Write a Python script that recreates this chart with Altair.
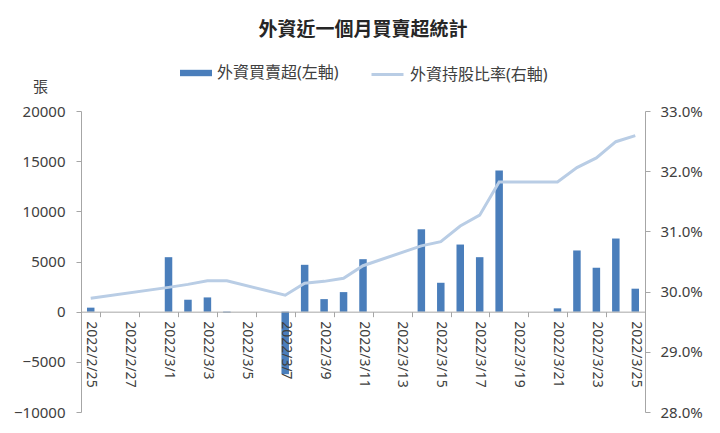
import altair as alt
import pandas as pd

# ---- data ----
dates = [
    "2022/2/25", "2022/2/26", "2022/2/27", "2022/2/28",
    "2022/3/1", "2022/3/2", "2022/3/3", "2022/3/4", "2022/3/5", "2022/3/6",
    "2022/3/7", "2022/3/8", "2022/3/9", "2022/3/10", "2022/3/11", "2022/3/12",
    "2022/3/13", "2022/3/14", "2022/3/15", "2022/3/16", "2022/3/17", "2022/3/18",
    "2022/3/19", "2022/3/20", "2022/3/21", "2022/3/22", "2022/3/23", "2022/3/24",
    "2022/3/25",
]
trade_dates = [
    "2022/2/25", "2022/3/1", "2022/3/2", "2022/3/3", "2022/3/4",
    "2022/3/7", "2022/3/8", "2022/3/9", "2022/3/10", "2022/3/11",
    "2022/3/14", "2022/3/15", "2022/3/16", "2022/3/17", "2022/3/18",
    "2022/3/21", "2022/3/22", "2022/3/23", "2022/3/24", "2022/3/25",
]
net_buy = [
    400, 5430, 1190, 1420, -80,
    -6230, 4670, 1250, 1950, 5230,
    8210, 2880, 6690, 5430, 14080,
    330, 6100, 4370, 7290, 2290,
]
hold_ratio = [
    29.89, 30.07, 30.12, 30.18, 30.18,
    29.94, 30.14, 30.17, 30.22, 30.43,
    30.76, 30.83, 31.09, 31.27, 31.82,
    31.82, 32.06, 32.22, 32.49, 32.59,
]
label_dates = dates[::2]
left_ticks = [-10000, -5000, 0, 5000, 10000, 15000, 20000]
right_ticks = [28, 29, 30, 31, 32, 33]
name_bar = "外資買賣超(左軸)"
name_line = "外資持股比率(右軸)"
title_text = "外資近一個月買賣超統計"

df = pd.DataFrame({"date": trade_dates, "net": net_buy, "ratio": hold_ratio})

FONT = "Noto Sans, Noto Sans CJK TC, sans-serif"
TXT = "#404040"
AX = "#a6a6a6"
W, H = 564, 301

base = alt.Chart(df).encode(
    x=alt.X(
        "date:N",
        sort=dates,
        scale=alt.Scale(domain=dates, paddingInner=0, paddingOuter=0),
        axis=alt.Axis(
            values=label_dates,
            title=None,
            labelAngle=90,
            labelAlign="left",
            labelBaseline="middle",
            labelPadding=4,
            labelOverlap=False,
            labelFontSize=14,
            labelFont=FONT,
            labelColor=TXT,
            offset=-H / 3,
            tickBand="extent",
            tickSize=5,
            tickColor=AX,
            domainColor=AX,
            grid=False,
            zindex=1,
        ),
    )
)

bars = base.transform_calculate(series=f"'{name_bar}'").mark_bar(size=7.5).encode(
    y=alt.Y(
        "net:Q",
        scale=alt.Scale(domain=[-10000, 20000], nice=False, zero=False),
        axis=alt.Axis(
            values=left_ticks,
            format="d",
            title="張",
            titleAngle=0,
            titleX=-41,
            titleY=-25,
            titleAlign="center",
            titleBaseline="middle",
            titleFontSize=15,
            titleFontWeight="normal",
            titleFont=FONT,
            titleColor=TXT,
            labelFontSize=15,
            labelFont=FONT,
            labelColor=TXT,
            labelPadding=11,
            tickSize=5,
            tickColor=AX,
            domainColor=AX,
            grid=False,
        ),
    ),
    fill=alt.Fill(
        "series:N",
        scale=alt.Scale(domain=[name_bar], range=["#4a7ebb"]),
        legend=alt.Legend(
            title=None,
            orient="none",
            legendX=99,
            legendY=-54,
            padding=0,
            symbolType="M-1,-0.2H1V0.2H-1Z",
            symbolSize=1024,
            symbolStrokeWidth=0,
            labelFontSize=16,
            labelFont=FONT,
            labelColor=TXT,
            labelOffset=5,
        ),
    ),
)

line = base.transform_calculate(series=f"'{name_line}'").mark_line(strokeWidth=3).encode(
    y=alt.Y(
        "ratio:Q",
        scale=alt.Scale(domain=[28, 33], nice=False, zero=False),
        axis=alt.Axis(
            orient="right",
            values=right_ticks,
            title=None,
            labelExpr="format(datum.value, '.1f') + '%'",
            labelFontSize=15,
            labelFont=FONT,
            labelColor=TXT,
            labelPadding=10,
            tickSize=5,
            tickColor=AX,
            domainColor=AX,
            grid=False,
        ),
    ),
    stroke=alt.Stroke(
        "series:N",
        scale=alt.Scale(domain=[name_line], range=["#b9cde5"]),
        legend=alt.Legend(
            title=None,
            orient="none",
            legendX=289,
            legendY=-54,
            padding=0,
            symbolType="stroke",
            symbolSize=1024,
            symbolStrokeWidth=3,
            labelFontSize=16,
            labelFont=FONT,
            labelColor=TXT,
            labelOffset=5,
        ),
    ),
)

chart = (
    alt.layer(bars, line)
    .resolve_scale(y="independent", fill="independent", stroke="independent")
    .properties(
        width=W,
        height=H,
        autosize=alt.AutoSizeParams(type="none"),
        padding={"left": 73, "top": 103, "right": 67, "bottom": 13},
        title=alt.Title(
            title_text,
            fontSize=19,
            fontWeight="bold",
            font=FONT,
            color="#262626",
            anchor="middle",
            frame="group",
            offset=17,
        ),
    )
    .configure_view(stroke=None)
)

chart.save("out.html", embed_options={"renderer": "svg", "actions": False})
